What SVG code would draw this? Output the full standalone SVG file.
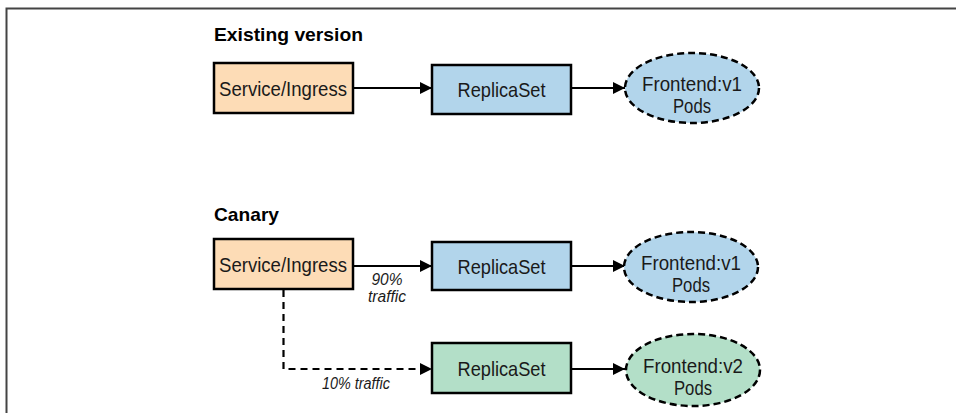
<svg xmlns="http://www.w3.org/2000/svg" width="956" height="413" viewBox="0 0 956 413">
<defs>
<marker id="ah" viewBox="0 0 12 12" refX="12" refY="6" markerWidth="12" markerHeight="12" markerUnits="userSpaceOnUse" orient="auto">
<path d="M0,0 L12,6 L0,12 Z" fill="#000"/>
</marker>
</defs>
<style>
.t{font-family:"Liberation Sans","DejaVu Sans",sans-serif;font-size:21px;fill:#1a1a1a;text-anchor:middle}
.h{font-family:"Liberation Sans","DejaVu Sans",sans-serif;font-size:19px;font-weight:bold;fill:#000}
.l{font-family:"Liberation Sans","DejaVu Sans",sans-serif;font-size:16px;font-style:italic;fill:#1a1a1a;text-anchor:middle}
.svc{fill:#fddcb6;stroke:#000;stroke-width:2.5}
.rsb{fill:#b2d5eb;stroke:#000;stroke-width:2.5}
.rsg{fill:#b3dfc8;stroke:#000;stroke-width:2.5}
.pb{fill:#b2d5eb;stroke:#000;stroke-width:2.5;stroke-dasharray:7,4}
.pg{fill:#b3dfc8;stroke:#000;stroke-width:2.5;stroke-dasharray:7,4}
.c{fill:none;stroke:#000;stroke-width:2.2}
.cd{fill:none;stroke:#000;stroke-width:2.2;stroke-dasharray:7,5}
</style>
<rect width="956" height="413" fill="#fff"/>
<path d="M6.5,413 V8.5 H956" fill="none" stroke="#444" stroke-width="2"/>
<text class="h" x="214" y="41" textLength="149" lengthAdjust="spacingAndGlyphs">Existing version</text>
<text class="h" x="214" y="221" textLength="65" lengthAdjust="spacingAndGlyphs">Canary</text>
<g id="connectors">
<path class="c" d="M353,88 H432" marker-end="url(#ah)"/>
<path class="c" d="M571,88 H625" marker-end="url(#ah)"/>
<path class="c" d="M353,266 H432" marker-end="url(#ah)"/>
<path class="c" d="M571,266 H625" marker-end="url(#ah)"/>
<path class="cd" d="M283.5,290 V369 H432" marker-end="url(#ah)"/>
<path class="c" d="M571,369 H625" marker-end="url(#ah)"/>
<text class="l" x="387" y="285" textLength="31" lengthAdjust="spacingAndGlyphs">90%</text>
<text class="l" x="387" y="302" textLength="38" lengthAdjust="spacingAndGlyphs">traffic</text>
<text class="l" x="356" y="389" textLength="68" lengthAdjust="spacingAndGlyphs">10% traffic</text>
</g>
<g id="svc1"><rect class="svc" x="214" y="63" width="139" height="50"/><text class="t" x="283" y="96" textLength="128" lengthAdjust="spacingAndGlyphs">Service/Ingress</text></g>
<g id="rs1"><rect class="rsb" x="432" y="65" width="139" height="49"/><text class="t" x="501.5" y="97" textLength="88" lengthAdjust="spacingAndGlyphs">ReplicaSet</text></g>
<g id="pods1"><ellipse class="pb" cx="692" cy="88" rx="67" ry="35"/><text class="t" x="692" y="91" textLength="100" lengthAdjust="spacingAndGlyphs">Frontend:v1</text><text class="t" x="692" y="113" textLength="38" lengthAdjust="spacingAndGlyphs">Pods</text></g>
<g id="svc2"><rect class="svc" x="214" y="239" width="139" height="50"/><text class="t" x="283" y="272" textLength="128" lengthAdjust="spacingAndGlyphs">Service/Ingress</text></g>
<g id="rs2"><rect class="rsb" x="432" y="242" width="139" height="48"/><text class="t" x="501.5" y="274" textLength="88" lengthAdjust="spacingAndGlyphs">ReplicaSet</text></g>
<g id="pods2"><ellipse class="pb" cx="691" cy="267" rx="67" ry="35"/><text class="t" x="691" y="270" textLength="100" lengthAdjust="spacingAndGlyphs">Frontend:v1</text><text class="t" x="691" y="292" textLength="38" lengthAdjust="spacingAndGlyphs">Pods</text></g>
<g id="rs3"><rect class="rsg" x="432" y="343" width="139" height="50"/><text class="t" x="501.5" y="376" textLength="88" lengthAdjust="spacingAndGlyphs">ReplicaSet</text></g>
<g id="pods3"><ellipse class="pg" cx="693" cy="370" rx="67" ry="36"/><text class="t" x="693" y="373" textLength="100" lengthAdjust="spacingAndGlyphs">Frontend:v2</text><text class="t" x="693" y="395" textLength="38" lengthAdjust="spacingAndGlyphs">Pods</text></g>
</svg>
